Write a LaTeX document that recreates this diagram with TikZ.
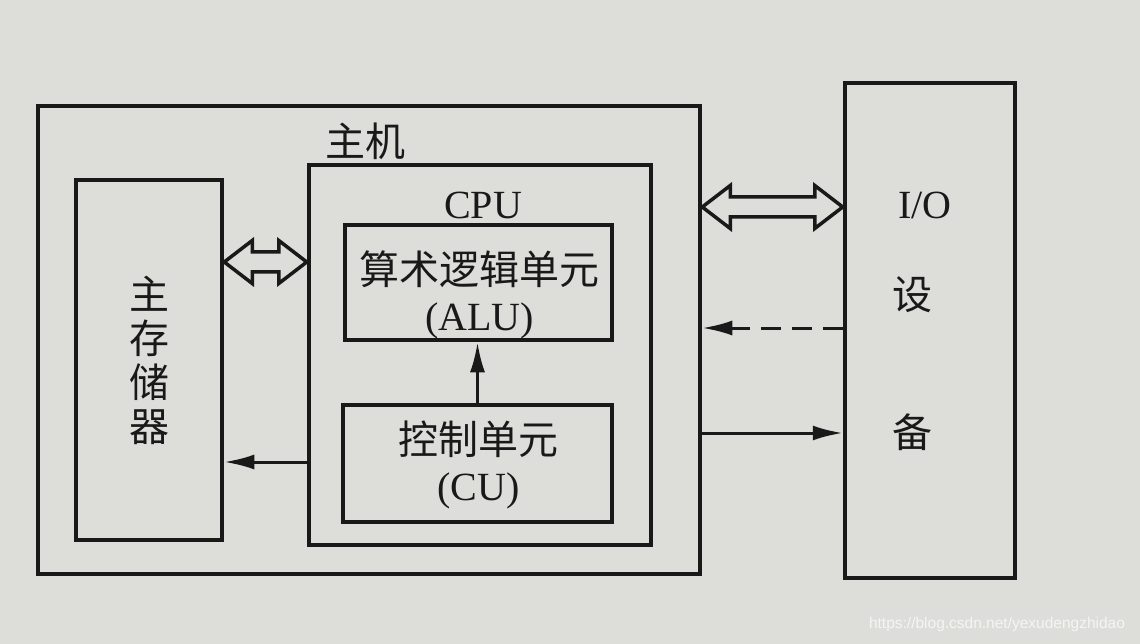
\documentclass[tikz,border=0pt]{standalone}
\usepackage{fontspec}
\setmainfont{Liberation Serif}
\newfontfamily\cjk{Noto Sans CJK SC}
\newfontfamily\urlfont{Liberation Sans}
\usetikzlibrary{calc, arrows.meta}
\definecolor{paper}{RGB}{221,221,218}
\definecolor{ink}{RGB}{25,25,25}
\definecolor{mark}{RGB}{245,245,245}

\begin{document}
\begin{tikzpicture}[x=1pt, y=-1pt, >={Latex[length=30pt, width=15pt]},
    box/.style={draw=ink, line width=4.5pt, inner sep=0pt},
    zh/.style={text=ink, font=\cjk\fontsize{40}{44}\selectfont},
    en/.style={text=ink, font=\fontsize{40}{48}\selectfont},
    link/.style={draw=ink, line width=3pt, ->},
    hollow/.style={draw=ink, line width=3.5pt, line join=miter}]

    % --- PAGE ---
    \useasboundingbox (0,0) rectangle (1140,644);
    \fill[paper] (0,0) rectangle (1140,644);

    % --- BOXES ---
    \node[box, minimum width=662pt, minimum height=468pt] (host) at (369,340) {};
    \node[box, zh, align=center, minimum width=146pt, minimum height=360pt] (mem) at (149,360) {主\\存\\储\\器};
    \node[box, minimum width=342pt, minimum height=380pt] (cpu) at (480,355) {};
    \node[box, minimum width=267pt, minimum height=115pt] (alu) at (478.5,282.5) {};
    \node[box, minimum width=269pt, minimum height=117pt] (cu) at (477.5,463.5) {};
    \node[box, minimum width=170pt, minimum height=495pt] (io) at (930,330.5) {};

    % LABELS
    \node[zh] (hostlabel) at (365,141) {主机};
    \node[en] (cpulabel) at (483,205) {CPU};
    \node[zh, align=center] (alutext) at ($(alu)+(1,12)$) {算术逻辑单元\\[2pt]{\rmfamily (ALU)}};
    \node[zh, align=center] (cutext) at ($(cu)+(1,1)$) {控制单元\\[2pt]{\rmfamily (CU)}};
    \node[en] (iolabel) at (925,205) {I/O};
    \node[zh] (ioshe) at (912,295) {设};
    \node[zh] (iobei) at (912,432) {备};

    % ROWS of the connectors
    \coordinate (rowA) at (0,262); % mem <-> cpu
    \coordinate (rowB) at (0,207); % host <-> io
    \coordinate (rowC) at (0,328); % io -> host, dashed
    \coordinate (rowD) at (0,433); % host -> io
    \coordinate (rowE) at (0,462); % cpu -> mem

    % --- HOLLOW DOUBLE ARROWS ---
    \coordinate (ma) at (mem.east |- rowA);
    \coordinate (mb) at (cpu.west |- rowA);
    \draw[hollow] (ma) -- ++(28,-21.5) -- ++(0,11.5) -- ($(mb)+(-28,-10)$) -- ++(0,-11.5) -- (mb)
        -- ++(-28,21.5) -- ++(0,-11.5) -- ($(ma)+(28,10)$) -- ++(0,11.5) -- cycle;
    \coordinate (ha) at (host.east |- rowB);
    \coordinate (hb) at (io.west |- rowB);
    \draw[hollow] (ha) -- ++(28,-21.5) -- ++(0,11.5) -- ($(hb)+(-28,-10)$) -- ++(0,-11.5) -- (hb)
        -- ++(-28,21.5) -- ++(0,-11.5) -- ($(ha)+(28,10)$) -- ++(0,11.5) -- cycle;

    % --- ARROWS ---
    \draw[link] (cu.north) -- (cu.north |- alu.south);
    \draw[link] (cpu.west |- rowE) -- (mem.east |- rowE);
    \draw[link, dash pattern=on 20pt off 11pt] (io.west |- rowC) -- (host.east |- rowC);
    \draw[link] (host.east |- rowD) -- (io.west |- rowD);

    % watermark
    \node[text=mark, font=\urlfont\fontsize{15.5}{18}\selectfont] (wm) at (997,624) {https://blog.csdn.net/yexudengzhidao};
\end{tikzpicture}
\end{document}
